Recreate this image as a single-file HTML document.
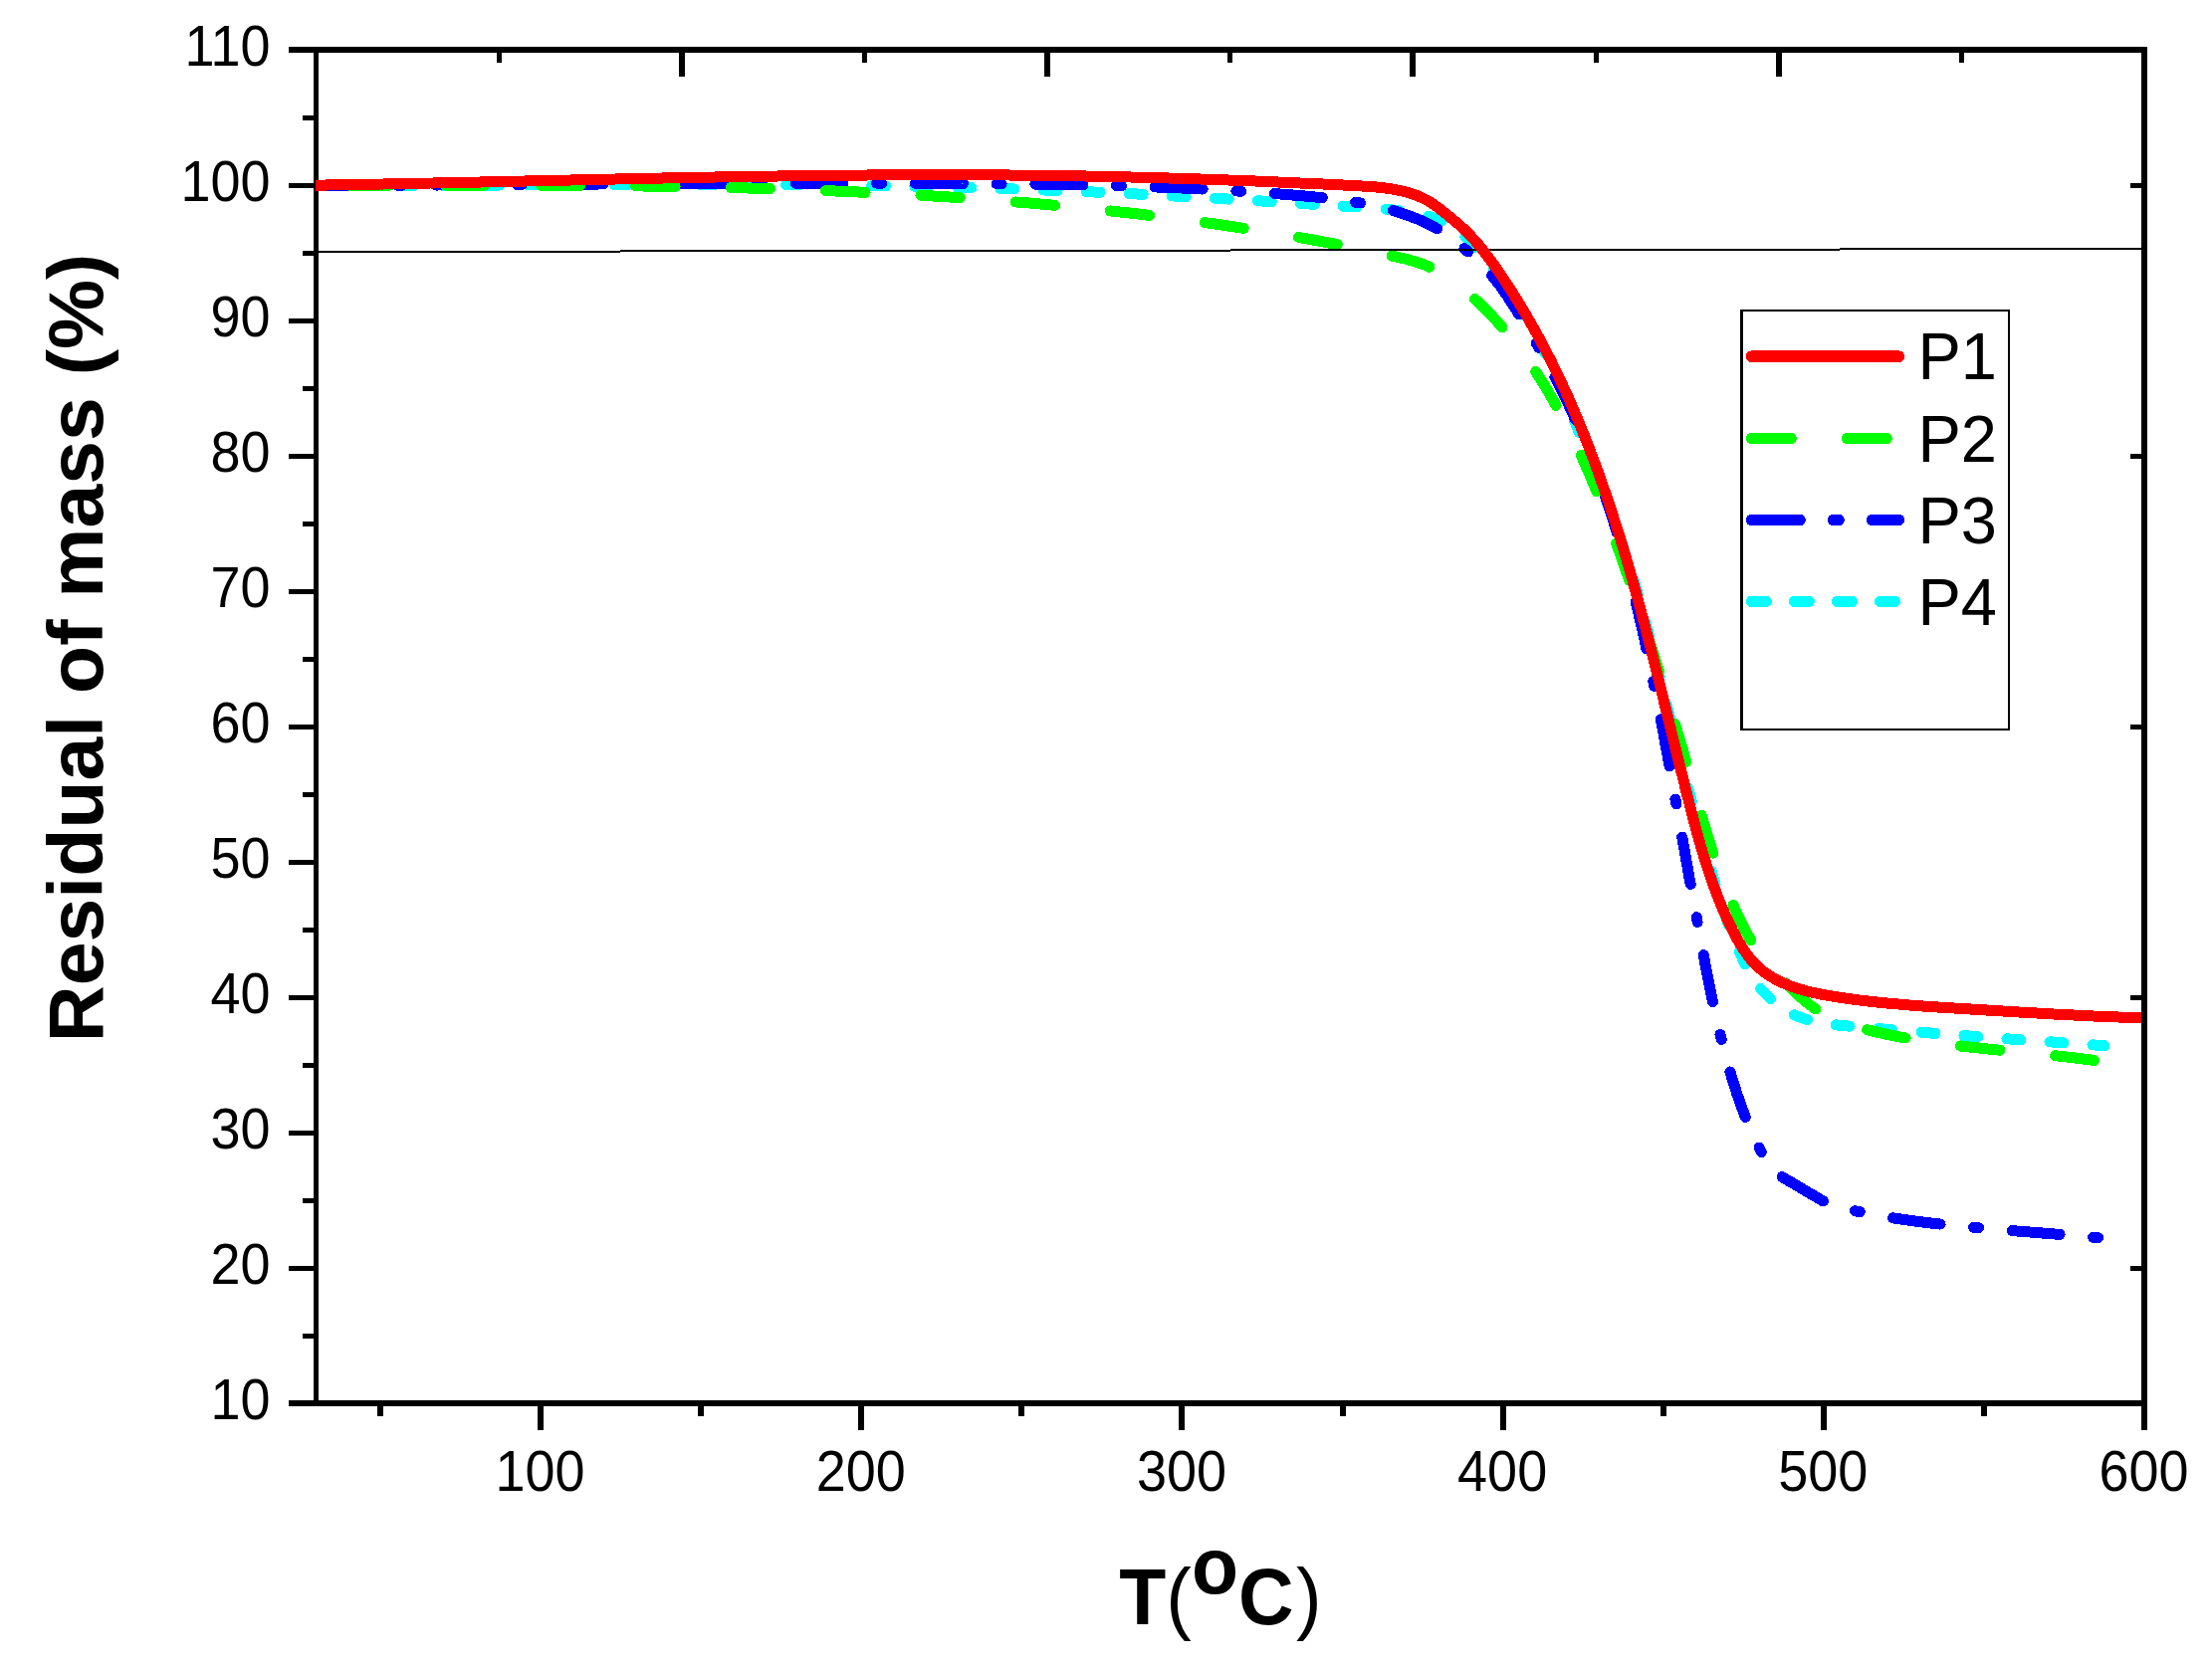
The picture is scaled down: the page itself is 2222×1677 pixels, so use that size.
<!DOCTYPE html>
<html lang="en">
<head>
<meta charset="utf-8">
<title>Residual of mass vs T</title>
<style>html,body{margin:0;padding:0;background:#fff}svg{display:block}</style>
</head>
<body>
<svg width="2222" height="1677" viewBox="0 0 2222 1677">
<rect width="2222" height="1677" fill="#fff"/>
<g shape-rendering="crispEdges"><rect x="290" y="47" width="1867" height="6" fill="#000"/><rect x="290" y="1407" width="1867" height="6" fill="#000"/><rect x="315" y="47" width="5" height="1366" fill="#000"/><rect x="2151" y="47" width="6" height="1390" fill="#000"/><rect x="290" y="1271.5" width="26" height="5" fill="#000"/><rect x="290" y="1135.5" width="26" height="5" fill="#000"/><rect x="290" y="999.5" width="26" height="5" fill="#000"/><rect x="290" y="863.5" width="26" height="5" fill="#000"/><rect x="290" y="727.5" width="26" height="5" fill="#000"/><rect x="290" y="591.5" width="26" height="5" fill="#000"/><rect x="290" y="455.5" width="26" height="5" fill="#000"/><rect x="290" y="319.5" width="26" height="5" fill="#000"/><rect x="290" y="183.5" width="26" height="5" fill="#000"/><rect x="304" y="1339.5" width="12" height="5" fill="#000"/><rect x="304" y="1203.5" width="12" height="5" fill="#000"/><rect x="304" y="1067.5" width="12" height="5" fill="#000"/><rect x="304" y="931.5" width="12" height="5" fill="#000"/><rect x="304" y="795.5" width="12" height="5" fill="#000"/><rect x="304" y="659.5" width="12" height="5" fill="#000"/><rect x="304" y="523.5" width="12" height="5" fill="#000"/><rect x="304" y="387.5" width="12" height="5" fill="#000"/><rect x="304" y="251.5" width="12" height="5" fill="#000"/><rect x="304" y="115.5" width="12" height="5" fill="#000"/><rect x="540.035" y="1412" width="6" height="25" fill="#000"/><rect x="862.228" y="1412" width="6" height="25" fill="#000"/><rect x="1184.42" y="1412" width="6" height="25" fill="#000"/><rect x="1506.61" y="1412" width="6" height="25" fill="#000"/><rect x="1828.81" y="1412" width="6" height="25" fill="#000"/><rect x="378.939" y="1412" width="6" height="11" fill="#000"/><rect x="701.132" y="1412" width="6" height="11" fill="#000"/><rect x="1023.32" y="1412" width="6" height="11" fill="#000"/><rect x="1345.52" y="1412" width="6" height="11" fill="#000"/><rect x="1667.71" y="1412" width="6" height="11" fill="#000"/><rect x="1989.9" y="1412" width="6" height="11" fill="#000"/><rect x="498.65" y="52" width="5" height="11" fill="#000"/><rect x="681.8" y="52" width="6" height="25" fill="#000"/><rect x="865.95" y="52" width="5" height="11" fill="#000"/><rect x="1049.1" y="52" width="6" height="25" fill="#000"/><rect x="1233.25" y="52" width="5" height="11" fill="#000"/><rect x="1416.4" y="52" width="6" height="25" fill="#000"/><rect x="1600.55" y="52" width="5" height="11" fill="#000"/><rect x="1783.7" y="52" width="6" height="25" fill="#000"/><rect x="1967.85" y="52" width="5" height="11" fill="#000"/><rect x="2140" y="1271.5" width="12" height="5" fill="#000"/><rect x="2140" y="999.5" width="12" height="5" fill="#000"/><rect x="2140" y="727.5" width="12" height="5" fill="#000"/><rect x="2140" y="455.5" width="12" height="5" fill="#000"/><rect x="2140" y="183.5" width="12" height="5" fill="#000"/></g>
<clipPath id="plotclip"><rect x="317" y="53" width="1834" height="1354"/></clipPath>
<g clip-path="url(#plotclip)">
<g fill="none" stroke-linecap="round" stroke-linejoin="round" stroke-width="11" shape-rendering="crispEdges">
<path d="M317.5 186.5L320.0 186.6L322.5 186.6L325.0 186.6L327.5 186.6L330.0 186.6L332.5 186.6L335.0 186.6L337.5 186.6L340.0 186.6L342.6 186.6L345.1 186.6L347.6 186.5L350.1 186.5L352.6 186.5L355.1 186.5L357.6 186.5L360.1 186.5L362.6 186.5L365.1 186.5L367.6 186.5L370.1 186.5L372.6 186.5L375.1 186.5L377.6 186.5L380.1 186.5L382.7 186.5L385.2 186.5L387.7 186.5L390.2 186.5L392.7 186.5L395.2 186.5L397.7 186.5L400.2 186.4L402.7 186.4L405.2 186.4L407.7 186.4L410.2 186.4L412.7 186.4L415.2 186.4L417.7 186.4L420.2 186.4L422.8 186.4L425.3 186.4L427.8 186.4L430.3 186.4L432.8 186.3L435.3 186.3L437.8 186.3L440.3 186.3L442.8 186.3L445.3 186.3L447.8 186.3L450.3 186.3L452.8 186.3L455.3 186.3L457.8 186.2L460.3 186.2L462.8 186.2L465.3 186.2L467.9 186.2L470.4 186.2L472.9 186.2L475.4 186.2L477.9 186.2L480.4 186.1L482.9 186.1L485.4 186.1L487.9 186.1L490.4 186.1L492.9 186.1L495.4 186.1L497.9 186.1L500.4 186.1L502.9 186.0L505.4 186.0L507.9 186.0L510.4 186.0L512.9 186.0L515.5 186.0L518.0 186.0L520.5 186.0L523.0 186.0L525.5 185.9L528.0 185.9L530.5 185.9L533.0 185.9L535.5 185.9L538.0 185.9L540.5 185.9L543.0 185.9L545.5 185.9L548.0 185.8L550.5 185.8L553.0 185.8L555.5 185.8L558.0 185.8L560.5 185.8L563.1 185.8L565.6 185.8L568.1 185.8L570.6 185.7L573.1 185.7L575.6 185.7L578.1 185.7L580.6 185.7L583.1 185.7L585.6 185.7L588.1 185.7L590.6 185.7L593.1 185.7L595.6 185.6L598.1 185.6L600.6 185.6L603.1 185.6L605.6 185.6L608.1 185.6L610.6 185.6L613.1 185.6L615.7 185.6L618.2 185.6L620.7 185.6L623.2 185.6L625.7 185.6L628.2 185.5L630.7 185.5L633.2 185.5L635.7 185.5L638.2 185.5L640.7 185.5L643.2 185.5L645.7 185.5L648.2 185.5L650.7 185.5L653.2 185.5L655.7 185.5L658.2 185.5L660.7 185.5L663.2 185.5L665.7 185.5L668.2 185.5L670.8 185.5L673.3 185.5L675.8 185.5L678.3 185.5L680.8 185.5L683.3 185.5L685.8 185.5L688.3 185.5L690.8 185.5L693.3 185.5L695.8 185.5L698.3 185.5L700.8 185.5L703.3 185.5L705.8 185.5L708.3 185.5L710.8 185.5L713.3 185.5L715.8 185.5L718.3 185.5L720.8 185.5L723.3 185.5L725.8 185.5L728.4 185.5L730.9 185.5L733.4 185.5L735.9 185.5L738.4 185.5L740.9 185.5L743.4 185.5L745.9 185.6L748.4 185.6L750.9 185.6L753.4 185.6L755.9 185.6L758.4 185.6L760.9 185.6L763.4 185.6L765.9 185.6L768.4 185.6L770.9 185.7L773.4 185.7L775.9 185.7L778.4 185.7L780.9 185.7L783.4 185.7L786.0 185.7L788.5 185.8L791.0 185.8L793.5 185.8L796.0 185.8L798.5 185.8L801.0 185.8L803.5 185.9L806.0 185.9L808.5 185.9L811.0 185.9L813.5 186.0L816.0 186.0L818.5 186.0L821.0 186.0L823.5 186.0L826.0 186.1L828.5 186.1L831.0 186.1L833.5 186.1L836.0 186.2L838.5 186.2L841.0 186.2L843.5 186.2L846.1 186.3L848.6 186.3L851.1 186.3L853.6 186.4L856.1 186.4L858.6 186.4L861.1 186.5L863.6 186.5L866.1 186.5L868.6 186.6L871.1 186.6L873.6 186.6L876.1 186.7L878.6 186.7L881.1 186.7L883.6 186.8L886.1 186.8L888.6 186.9L891.1 186.9L893.6 186.9L896.1 187.0L898.6 187.0L901.1 187.1L903.7 187.1L906.2 187.2L908.7 187.2L911.2 187.2L913.7 187.3L916.2 187.3L918.7 187.4L921.2 187.4L923.7 187.5L926.2 187.5L928.7 187.6L931.2 187.6L933.7 187.7L936.2 187.7L938.7 187.8L941.2 187.9L943.7 187.9L946.2 188.0L948.7 188.0L951.2 188.1L953.7 188.1L956.2 188.2L958.7 188.3L961.3 188.3L963.8 188.4L966.3 188.4L968.8 188.5L971.3 188.6L973.8 188.6L976.3 188.7L978.8 188.8L981.3 188.8L983.8 188.9L986.3 189.0L988.8 189.0L991.3 189.1L993.8 189.2L996.3 189.3L998.8 189.3L1001.3 189.4L1003.8 189.5L1006.3 189.6L1008.8 189.6L1011.3 189.7L1013.8 189.8L1016.3 189.9L1018.9 190.0L1021.4 190.0L1023.9 190.1L1026.4 190.2L1028.9 190.3L1031.4 190.4L1033.9 190.5L1036.4 190.5L1038.9 190.6L1041.4 190.7L1043.9 190.8L1046.4 190.9L1048.9 191.0L1051.4 191.1L1053.9 191.2L1056.4 191.3L1058.9 191.4L1061.4 191.5L1063.9 191.6L1066.4 191.7L1068.9 191.8L1071.4 191.9L1074.0 192.0L1076.5 192.1L1079.0 192.2L1081.5 192.3L1084.0 192.4L1086.5 192.5L1089.0 192.6L1091.5 192.7L1094.0 192.8L1096.5 192.9L1099.0 193.0L1101.5 193.1L1104.0 193.3L1106.5 193.4L1109.0 193.5L1111.5 193.6L1114.0 193.7L1116.5 193.8L1119.0 193.9L1121.5 194.1L1124.0 194.2L1126.5 194.3L1129.1 194.4L1131.6 194.5L1134.1 194.7L1136.6 194.8L1139.1 194.9L1141.6 195.0L1144.1 195.2L1146.6 195.3L1149.1 195.4L1151.6 195.5L1154.1 195.7L1156.6 195.8L1159.1 195.9L1161.6 196.0L1164.1 196.2L1166.6 196.3L1169.1 196.4L1171.6 196.6L1174.1 196.7L1176.6 196.8L1179.1 197.0L1181.6 197.1L1184.1 197.2L1186.6 197.4L1189.1 197.5L1191.6 197.7L1194.1 197.8L1196.6 197.9L1199.2 198.1L1201.7 198.2L1204.2 198.3L1206.7 198.5L1209.2 198.6L1211.7 198.8L1214.2 198.9L1216.7 199.1L1219.2 199.2L1221.7 199.3L1224.2 199.5L1226.7 199.6L1229.2 199.8L1231.7 199.9L1234.2 200.1L1236.7 200.2L1239.2 200.4L1241.7 200.5L1244.2 200.7L1246.7 200.8L1249.2 200.9L1251.7 201.1L1254.2 201.2L1256.7 201.4L1259.2 201.5L1261.7 201.7L1264.2 201.8L1266.7 202.0L1269.2 202.1L1271.7 202.3L1274.2 202.5L1276.7 202.6L1279.2 202.8L1281.7 202.9L1284.2 203.1L1286.7 203.2L1289.2 203.4L1291.7 203.5L1294.2 203.7L1296.7 203.8L1299.2 204.0L1301.7 204.1L1304.2 204.3L1306.7 204.5L1309.2 204.6L1311.7 204.8L1314.2 204.9L1316.6 205.1L1319.1 205.2L1321.6 205.4L1324.1 205.6L1326.6 205.7L1329.1 205.9L1331.6 206.0L1334.1 206.2L1336.6 206.3L1339.1 206.5L1341.6 206.7L1344.1 206.8L1346.6 207.0L1349.1 207.1L1351.6 207.3L1354.1 207.4L1356.6 207.6L1359.1 207.8L1361.6 207.9L1364.1 208.1L1366.5 208.3L1369.0 208.4L1371.5 208.6L1374.0 208.8L1376.5 209.0L1379.0 209.1L1381.5 209.3L1384.0 209.6L1386.5 209.8L1389.0 210.0L1391.5 210.2L1394.0 210.5L1396.5 210.8L1398.9 211.0L1401.4 211.3L1403.9 211.7L1406.4 212.0L1408.9 212.3L1411.4 212.7L1413.9 213.1L1416.4 213.5L1418.9 213.9L1421.3 214.4L1423.8 214.9L1426.3 215.4L1428.8 215.9L1431.3 216.5L1433.7 217.1L1436.1 217.8L1438.5 218.5L1440.9 219.2L1443.3 220.0L1445.6 220.9L1447.9 221.9L1450.2 222.9L1452.4 223.9L1454.6 225.1L1456.7 226.3L1458.8 227.6L1460.9 229.0L1462.9 230.5L1464.8 232.0L1466.8 233.5L1468.7 235.2L1470.5 236.8L1472.4 238.6L1474.2 240.3L1475.9 242.1L1477.7 244.0L1479.4 245.8L1481.1 247.7L1482.8 249.6L1484.5 251.6L1486.1 253.5L1487.8 255.5L1489.4 257.4L1491.0 259.4L1492.6 261.4L1494.2 263.3L1495.8 265.3L1497.4 267.2L1499.0 269.2L1500.5 271.2L1502.1 273.2L1503.6 275.1L1505.1 277.1L1506.6 279.1L1508.1 281.1L1509.6 283.1L1511.1 285.1L1512.6 287.1L1514.0 289.1L1515.5 291.1L1516.9 293.1L1518.3 295.1L1519.7 297.2L1521.1 299.2L1522.5 301.3L1523.8 303.4L1525.1 305.5L1526.5 307.5L1527.8 309.6L1529.1 311.8L1530.4 313.9L1531.7 316.0L1532.9 318.1L1534.2 320.3L1535.4 322.4L1536.6 324.6L1537.8 326.8L1539.0 329.0L1540.2 331.1L1541.4 333.3L1542.6 335.5L1543.7 337.7L1544.9 340.0L1546.0 342.2L1547.2 344.4L1548.3 346.7L1549.4 348.9L1550.5 351.1L1551.6 353.4L1552.7 355.7L1553.8 357.9L1554.8 360.2L1555.9 362.5L1556.9 364.7L1558.0 367.0L1559.0 369.3L1560.1 371.6L1561.1 373.9L1562.1 376.2L1563.1 378.5L1564.1 380.8L1565.1 383.1L1566.1 385.4L1567.1 387.8L1568.1 390.1L1569.1 392.4L1570.1 394.7L1571.0 397.1L1572.0 399.4L1573.0 401.7L1573.9 404.1L1574.9 406.4L1575.8 408.7L1576.8 411.1L1577.7 413.4L1578.7 415.7L1579.6 418.1L1580.6 420.4L1581.5 422.8L1582.5 425.1L1583.4 427.4L1584.4 429.8L1585.3 432.1L1586.2 434.4L1587.2 436.8L1588.1 439.1L1589.0 441.4L1590.0 443.8L1590.9 446.1L1591.9 448.4L1592.8 450.8L1593.8 453.1L1594.7 455.4L1595.6 457.7L1596.6 460.1L1597.5 462.4L1598.4 464.7L1599.4 467.0L1600.3 469.4L1601.3 471.7L1602.2 474.0L1603.1 476.3L1604.0 478.6L1605.0 481.0L1605.9 483.3L1606.8 485.6L1607.7 487.9L1608.6 490.3L1609.6 492.6L1610.5 494.9L1611.4 497.2L1612.3 499.6L1613.2 501.9L1614.1 504.2L1615.0 506.5L1615.9 508.9L1616.7 511.2L1617.6 513.5L1618.5 515.9L1619.4 518.2L1620.2 520.6L1621.1 522.9L1621.9 525.2L1622.8 527.6L1623.6 529.9L1624.5 532.3L1625.3 534.6L1626.1 537.0L1627.0 539.3L1627.8 541.7L1628.6 544.0L1629.4 546.4L1630.2 548.8L1631.0 551.1L1631.7 553.5L1632.5 555.9L1633.3 558.3L1634.1 560.6L1634.8 563.0L1635.6 565.4L1636.3 567.8L1637.1 570.2L1637.8 572.6L1638.6 574.9L1639.3 577.3L1640.0 579.7L1640.7 582.1L1641.5 584.5L1642.2 586.9L1642.9 589.3L1643.6 591.7L1644.3 594.1L1645.0 596.5L1645.7 598.9L1646.4 601.3L1647.0 603.8L1647.7 606.2L1648.4 608.6L1649.1 611.0L1649.7 613.4L1650.4 615.8L1651.1 618.2L1651.7 620.7L1652.4 623.1L1653.0 625.5L1653.7 627.9L1654.3 630.4L1655.0 632.8L1655.6 635.2L1656.3 637.6L1656.9 640.1L1657.5 642.5L1658.2 644.9L1658.8 647.4L1659.4 649.8L1660.0 652.2L1660.7 654.6L1661.3 657.1L1661.9 659.5L1662.5 661.9L1663.2 664.4L1663.8 666.8L1664.4 669.3L1665.0 671.7L1665.6 674.1L1666.2 676.6L1666.8 679.0L1667.5 681.4L1668.1 683.9L1668.7 686.3L1669.3 688.7L1669.9 691.2L1670.5 693.6L1671.1 696.1L1671.7 698.5L1672.3 700.9L1672.9 703.4L1673.5 705.8L1674.2 708.2L1674.8 710.7L1675.4 713.1L1676.0 715.5L1676.6 718.0L1677.2 720.4L1677.8 722.9L1678.4 725.3L1679.0 727.7L1679.7 730.1L1680.3 732.6L1680.9 735.0L1681.5 737.4L1682.1 739.9L1682.7 742.3L1683.4 744.7L1684.0 747.2L1684.6 749.6L1685.2 752.0L1685.9 754.4L1686.5 756.9L1687.1 759.3L1687.7 761.7L1688.4 764.2L1689.0 766.6L1689.6 769.0L1690.3 771.4L1690.9 773.9L1691.5 776.3L1692.2 778.7L1692.8 781.1L1693.4 783.5L1694.1 786.0L1694.7 788.4L1695.4 790.8L1696.0 793.2L1696.6 795.6L1697.3 798.1L1697.9 800.5L1698.6 802.9L1699.2 805.3L1699.9 807.7L1700.6 810.1L1701.2 812.6L1701.9 815.0L1702.5 817.4L1703.2 819.8L1703.9 822.2L1704.5 824.6L1705.2 827.0L1705.9 829.4L1706.5 831.8L1707.2 834.3L1707.9 836.7L1708.6 839.1L1709.3 841.5L1709.9 843.9L1710.6 846.3L1711.3 848.7L1712.0 851.1L1712.7 853.5L1713.4 855.9L1714.1 858.3L1714.8 860.7L1715.5 863.1L1716.2 865.5L1716.9 867.9L1717.6 870.3L1718.3 872.7L1719.0 875.1L1719.7 877.5L1720.5 879.9L1721.2 882.3L1721.9 884.7L1722.6 887.1L1723.4 889.4L1724.1 891.8L1724.8 894.2L1725.6 896.6L1726.3 899.0L1727.1 901.4L1727.8 903.8L1728.6 906.1L1729.4 908.5L1730.2 910.9L1730.9 913.3L1731.7 915.6L1732.5 918.0L1733.4 920.4L1734.2 922.7L1735.0 925.1L1735.9 927.4L1736.7 929.8L1737.6 932.1L1738.5 934.5L1739.3 936.8L1740.2 939.1L1741.2 941.5L1742.1 943.8L1743.0 946.1L1744.0 948.4L1744.9 950.8L1745.9 953.1L1746.9 955.4L1747.9 957.7L1749.0 960.0L1750.0 962.2L1751.1 964.5L1752.1 966.8L1753.2 969.1L1754.4 971.3L1755.5 973.6L1756.7 975.8L1757.9 978.0L1759.2 980.1L1760.5 982.3L1761.8 984.4L1763.2 986.5L1764.7 988.5L1766.2 990.5L1767.8 992.4L1769.4 994.3L1771.1 996.2L1772.8 998.0L1774.6 999.8L1776.3 1001.5L1778.2 1003.3L1780.0 1004.9L1781.9 1006.6L1783.8 1008.2L1785.8 1009.7L1787.8 1011.2L1789.9 1012.6L1792.0 1014.0L1794.1 1015.3L1796.3 1016.6L1798.5 1017.8L1800.8 1018.9L1803.0 1020.0L1805.4 1021.0L1807.7 1021.9L1810.0 1022.8L1812.4 1023.7L1814.8 1024.4L1817.2 1025.1L1819.6 1025.8L1822.0 1026.4L1824.5 1026.9L1826.9 1027.4L1829.4 1027.9L1831.8 1028.3L1834.3 1028.7L1836.8 1029.0L1839.3 1029.3L1841.8 1029.6L1844.2 1029.9L1846.7 1030.1L1849.2 1030.4L1851.7 1030.6L1854.2 1030.8L1856.7 1031.0L1859.2 1031.3L1861.7 1031.5L1864.2 1031.7L1866.7 1031.9L1869.2 1032.1L1871.7 1032.3L1874.2 1032.5L1876.7 1032.8L1879.2 1033.0L1881.7 1033.2L1884.2 1033.4L1886.7 1033.6L1889.2 1033.8L1891.7 1034.0L1894.2 1034.3L1896.7 1034.5L1899.2 1034.7L1901.7 1034.9L1904.2 1035.1L1906.7 1035.3L1909.2 1035.5L1911.7 1035.7L1914.2 1035.9L1916.7 1036.1L1919.2 1036.3L1921.7 1036.5L1924.2 1036.7L1926.7 1037.0L1929.2 1037.2L1931.6 1037.4L1934.1 1037.6L1936.6 1037.8L1939.1 1038.0L1941.6 1038.2L1944.1 1038.4L1946.6 1038.6L1949.1 1038.8L1951.6 1039.0L1954.1 1039.2L1956.6 1039.4L1959.1 1039.6L1961.6 1039.7L1964.1 1039.9L1966.6 1040.1L1969.1 1040.3L1971.6 1040.5L1974.1 1040.7L1976.6 1040.9L1979.1 1041.1L1981.6 1041.3L1984.1 1041.5L1986.6 1041.7L1989.1 1041.8L1991.6 1042.0L1994.1 1042.2L1996.6 1042.4L1999.1 1042.6L2001.6 1042.8L2004.1 1042.9L2006.6 1043.1L2009.1 1043.3L2011.6 1043.5L2014.1 1043.7L2016.6 1043.9L2019.0 1044.0L2021.5 1044.2L2024.0 1044.4L2026.5 1044.6L2029.0 1044.7L2031.5 1044.9L2034.0 1045.1L2036.5 1045.3L2039.0 1045.5L2041.5 1045.6L2044.0 1045.8L2046.5 1046.0L2049.0 1046.2L2051.5 1046.3L2054.0 1046.5L2056.5 1046.7L2059.0 1046.9L2061.5 1047.0L2064.0 1047.2L2066.5 1047.4L2069.0 1047.6L2071.5 1047.7L2074.0 1047.9L2076.5 1048.1L2079.0 1048.3L2081.5 1048.4L2084.0 1048.6L2086.5 1048.8L2089.0 1049.0L2091.5 1049.1L2094.0 1049.3L2096.5 1049.5L2099.0 1049.7L2101.5 1049.8L2104.0 1050.0L2106.5 1050.2L2109.0 1050.4L2111.5 1050.5L2114.0 1050.7" stroke="#00ffff" stroke-dasharray="14 29.1" stroke-dashoffset="2"/>
<path d="M317.5 186.7L320.0 186.7L322.5 186.7L325.0 186.7L327.5 186.6L330.0 186.6L332.5 186.6L335.0 186.6L337.5 186.6L340.1 186.6L342.6 186.6L345.1 186.5L347.6 186.5L350.1 186.5L352.6 186.5L355.1 186.5L357.6 186.5L360.1 186.5L362.6 186.4L365.1 186.4L367.6 186.4L370.1 186.4L372.6 186.4L375.1 186.4L377.6 186.4L380.1 186.3L382.6 186.3L385.1 186.3L387.7 186.3L390.2 186.3L392.7 186.3L395.2 186.2L397.7 186.2L400.2 186.2L402.7 186.2L405.2 186.2L407.7 186.2L410.2 186.2L412.7 186.1L415.2 186.1L417.7 186.1L420.2 186.1L422.7 186.1L425.2 186.1L427.7 186.0L430.2 186.0L432.8 186.0L435.3 186.0L437.8 186.0L440.3 186.0L442.8 185.9L445.3 185.9L447.8 185.9L450.3 185.9L452.8 185.9L455.3 185.9L457.8 185.8L460.3 185.8L462.8 185.8L465.3 185.8L467.8 185.8L470.3 185.8L472.8 185.8L475.4 185.7L477.9 185.7L480.4 185.7L482.9 185.7L485.4 185.7L487.9 185.7L490.4 185.6L492.9 185.6L495.4 185.6L497.9 185.6L500.4 185.6L502.9 185.6L505.4 185.5L507.9 185.5L510.4 185.5L512.9 185.5L515.4 185.5L518.0 185.5L520.5 185.4L523.0 185.4L525.5 185.4L528.0 185.4L530.5 185.4L533.0 185.4L535.5 185.4L538.0 185.3L540.5 185.3L543.0 185.3L545.5 185.3L548.0 185.3L550.5 185.3L553.0 185.2L555.5 185.2L558.0 185.2L560.6 185.2L563.1 185.2L565.6 185.2L568.1 185.2L570.6 185.1L573.1 185.1L575.6 185.1L578.1 185.1L580.6 185.1L583.1 185.1L585.6 185.0L588.1 185.0L590.6 185.0L593.1 185.0L595.6 185.0L598.1 185.0L600.6 185.0L603.2 184.9L605.7 184.9L608.2 184.9L610.7 184.9L613.2 184.9L615.7 184.9L618.2 184.9L620.7 184.9L623.2 184.8L625.7 184.8L628.2 184.8L630.7 184.8L633.2 184.8L635.7 184.8L638.2 184.8L640.7 184.7L643.3 184.7L645.8 184.7L648.3 184.7L650.8 184.7L653.3 184.7L655.8 184.7L658.3 184.7L660.8 184.6L663.3 184.6L665.8 184.6L668.3 184.6L670.8 184.6L673.3 184.6L675.8 184.6L678.3 184.6L680.8 184.6L683.3 184.5L685.9 184.5L688.4 184.5L690.9 184.5L693.4 184.5L695.9 184.5L698.4 184.5L700.9 184.5L703.4 184.5L705.9 184.5L708.4 184.4L710.9 184.4L713.4 184.4L715.9 184.4L718.4 184.4L720.9 184.4L723.4 184.4L726.0 184.4L728.5 184.4L731.0 184.4L733.5 184.4L736.0 184.3L738.5 184.3L741.0 184.3L743.5 184.3L746.0 184.3L748.5 184.3L751.0 184.3L753.5 184.3L756.0 184.3L758.5 184.3L761.0 184.3L763.5 184.3L766.0 184.3L768.6 184.3L771.1 184.2L773.6 184.2L776.1 184.2L778.6 184.2L781.1 184.2L783.6 184.2L786.1 184.2L788.6 184.2L791.1 184.2L793.6 184.2L796.1 184.2L798.6 184.2L801.1 184.2L803.6 184.2L806.1 184.2L808.7 184.2L811.2 184.2L813.7 184.2L816.2 184.2L818.7 184.2L821.2 184.2L823.7 184.2L826.2 184.2L828.7 184.2L831.2 184.2L833.7 184.2L836.2 184.2L838.7 184.2L841.2 184.2L843.7 184.2L846.2 184.2L848.7 184.2L851.3 184.2L853.8 184.2L856.3 184.2L858.8 184.2L861.3 184.2L863.8 184.2L866.3 184.2L868.8 184.2L871.3 184.2L873.8 184.2L876.3 184.2L878.8 184.2L881.3 184.2L883.8 184.2L886.3 184.2L888.8 184.2L891.3 184.2L893.8 184.2L896.4 184.2L898.9 184.2L901.4 184.2L903.9 184.2L906.4 184.2L908.9 184.2L911.4 184.3L913.9 184.3L916.4 184.3L918.9 184.3L921.4 184.3L923.9 184.3L926.4 184.3L928.9 184.3L931.4 184.3L933.9 184.3L936.4 184.3L938.9 184.3L941.5 184.3L944.0 184.4L946.5 184.4L949.0 184.4L951.5 184.4L954.0 184.4L956.5 184.4L959.0 184.4L961.5 184.4L964.0 184.4L966.5 184.5L969.0 184.5L971.5 184.5L974.0 184.5L976.5 184.5L979.0 184.5L981.5 184.5L984.0 184.6L986.5 184.6L989.1 184.6L991.6 184.6L994.1 184.6L996.6 184.7L999.1 184.7L1001.6 184.7L1004.1 184.7L1006.6 184.7L1009.1 184.8L1011.6 184.8L1014.1 184.8L1016.6 184.8L1019.1 184.9L1021.6 184.9L1024.1 184.9L1026.6 184.9L1029.1 185.0L1031.6 185.0L1034.1 185.0L1036.7 185.1L1039.2 185.1L1041.7 185.1L1044.2 185.1L1046.7 185.2L1049.2 185.2L1051.7 185.3L1054.2 185.3L1056.7 185.3L1059.2 185.4L1061.7 185.4L1064.2 185.5L1066.7 185.5L1069.2 185.5L1071.7 185.6L1074.2 185.6L1076.7 185.7L1079.2 185.7L1081.7 185.8L1084.2 185.8L1086.7 185.9L1089.2 185.9L1091.8 186.0L1094.3 186.0L1096.8 186.1L1099.3 186.1L1101.8 186.2L1104.3 186.3L1106.8 186.3L1109.3 186.4L1111.8 186.4L1114.3 186.5L1116.8 186.6L1119.3 186.6L1121.8 186.7L1124.3 186.8L1126.8 186.9L1129.3 186.9L1131.8 187.0L1134.3 187.1L1136.8 187.2L1139.3 187.2L1141.8 187.3L1144.3 187.4L1146.8 187.5L1149.4 187.6L1151.9 187.7L1154.4 187.7L1156.9 187.8L1159.4 187.9L1161.9 188.0L1164.4 188.1L1166.9 188.2L1169.4 188.3L1171.9 188.4L1174.4 188.5L1176.9 188.6L1179.4 188.7L1181.9 188.8L1184.4 188.9L1186.9 189.0L1189.4 189.1L1191.9 189.3L1194.4 189.4L1196.9 189.5L1199.4 189.6L1201.9 189.7L1204.4 189.9L1206.9 190.0L1209.4 190.1L1211.9 190.2L1214.4 190.4L1216.9 190.5L1219.5 190.6L1222.0 190.8L1224.5 190.9L1227.0 191.1L1229.5 191.2L1232.0 191.3L1234.5 191.5L1237.0 191.6L1239.5 191.8L1242.0 191.9L1244.5 192.1L1247.0 192.3L1249.5 192.4L1252.0 192.6L1254.5 192.7L1257.0 192.9L1259.5 193.1L1262.0 193.3L1264.5 193.4L1267.0 193.6L1269.5 193.8L1272.0 194.0L1274.5 194.1L1277.0 194.3L1279.5 194.5L1282.0 194.7L1284.5 194.9L1287.0 195.1L1289.5 195.3L1292.0 195.5L1294.5 195.7L1297.0 195.9L1299.5 196.1L1302.0 196.3L1304.5 196.5L1307.0 196.7L1309.5 196.9L1312.0 197.2L1314.6 197.4L1317.1 197.6L1319.5 197.9L1322.0 198.1L1324.5 198.4L1327.0 198.6L1329.5 198.9L1332.0 199.1L1334.5 199.4L1337.0 199.7L1339.5 200.0L1342.0 200.3L1344.5 200.6L1347.0 200.9L1349.4 201.3L1351.9 201.6L1354.4 202.0L1356.8 202.4L1359.3 202.8L1361.8 203.2L1364.2 203.6L1366.7 204.0L1369.2 204.5L1371.6 204.9L1374.0 205.4L1376.5 205.9L1378.9 206.4L1381.4 207.0L1383.8 207.5L1386.2 208.1L1388.6 208.7L1391.0 209.3L1393.4 209.9L1395.8 210.6L1398.2 211.2L1400.6 211.9L1403.0 212.7L1405.4 213.4L1407.8 214.2L1410.1 215.0L1412.5 215.8L1414.9 216.6L1417.2 217.5L1419.5 218.4L1421.9 219.3L1424.2 220.2L1426.5 221.2L1428.8 222.2L1431.1 223.3L1433.4 224.4L1435.6 225.5L1437.9 226.6L1440.1 227.8L1442.3 229.0L1444.4 230.3L1446.6 231.6L1448.7 232.9L1450.8 234.3L1452.8 235.7L1454.9 237.2L1456.9 238.7L1458.9 240.2L1460.9 241.7L1462.9 243.2L1464.9 244.8L1466.8 246.4L1468.7 247.9L1470.7 249.6L1472.6 251.2L1474.5 252.8L1476.4 254.5L1478.3 256.1L1480.2 257.8L1482.0 259.5L1483.9 261.2L1485.7 262.9L1487.5 264.7L1489.2 266.5L1491.0 268.3L1492.7 270.1L1494.4 271.9L1496.0 273.8L1497.7 275.7L1499.3 277.6L1500.9 279.5L1502.4 281.4L1504.0 283.4L1505.5 285.3L1507.0 287.3L1508.4 289.3L1509.9 291.4L1511.3 293.4L1512.8 295.5L1514.2 297.5L1515.5 299.6L1516.9 301.7L1518.3 303.8L1519.7 305.9L1521.0 308.0L1522.3 310.1L1523.7 312.2L1525.0 314.4L1526.3 316.5L1527.6 318.7L1528.9 320.8L1530.3 323.0L1531.6 325.1L1532.9 327.3L1534.2 329.4L1535.5 331.6L1536.7 333.7L1538.0 335.9L1539.3 338.1L1540.6 340.3L1541.9 342.4L1543.1 344.6L1544.4 346.8L1545.6 349.0L1546.9 351.2L1548.1 353.4L1549.4 355.6L1550.6 357.8L1551.8 360.0L1553.1 362.2L1554.3 364.4L1555.5 366.6L1556.7 368.8L1557.9 371.1L1559.0 373.3L1560.2 375.5L1561.4 377.7L1562.5 380.0L1563.7 382.2L1564.8 384.4L1566.0 386.7L1567.1 388.9L1568.2 391.2L1569.4 393.4L1570.5 395.7L1571.6 397.9L1572.6 400.2L1573.7 402.5L1574.8 404.7L1575.9 407.0L1576.9 409.3L1578.0 411.5L1579.0 413.8L1580.1 416.1L1581.1 418.4L1582.1 420.6L1583.1 422.9L1584.2 425.2L1585.2 427.5L1586.1 429.8L1587.1 432.1L1588.1 434.4L1589.1 436.7L1590.1 439.0L1591.0 441.3L1592.0 443.6L1592.9 445.9L1593.9 448.3L1594.8 450.6L1595.7 452.9L1596.6 455.2L1597.6 457.5L1598.5 459.9L1599.4 462.2L1600.3 464.5L1601.2 466.9L1602.0 469.2L1602.9 471.5L1603.8 473.9L1604.6 476.2L1605.5 478.6L1606.4 480.9L1607.2 483.3L1608.0 485.6L1608.9 488.0L1609.7 490.3L1610.5 492.7L1611.3 495.1L1612.1 497.4L1612.9 499.8L1613.7 502.1L1614.5 504.5L1615.3 506.9L1616.1 509.3L1616.9 511.6L1617.7 514.0L1618.4 516.4L1619.2 518.8L1619.9 521.1L1620.7 523.5L1621.4 525.9L1622.2 528.3L1622.9 530.7L1623.6 533.1L1624.4 535.5L1625.1 537.9L1625.8 540.3L1626.5 542.7L1627.2 545.1L1627.9 547.5L1628.6 549.9L1629.3 552.3L1630.0 554.7L1630.6 557.1L1631.3 559.5L1632.0 561.9L1632.7 564.3L1633.3 566.7L1634.0 569.1L1634.6 571.6L1635.3 574.0L1635.9 576.4L1636.6 578.8L1637.2 581.2L1637.8 583.7L1638.5 586.1L1639.1 588.5L1639.7 590.9L1640.3 593.4L1640.9 595.8L1641.5 598.2L1642.1 600.7L1642.7 603.1L1643.3 605.5L1643.9 608.0L1644.5 610.4L1645.1 612.8L1645.7 615.3L1646.3 617.7L1646.8 620.2L1647.4 622.6L1648.0 625.0L1648.5 627.5L1649.1 629.9L1649.7 632.4L1650.2 634.8L1650.8 637.3L1651.3 639.7L1651.9 642.2L1652.4 644.6L1653.0 647.1L1653.5 649.5L1654.0 652.0L1654.6 654.4L1655.1 656.9L1655.6 659.3L1656.1 661.8L1656.6 664.2L1657.2 666.7L1657.7 669.2L1658.2 671.6L1658.7 674.1L1659.2 676.5L1659.7 679.0L1660.2 681.5L1660.7 683.9L1661.2 686.4L1661.7 688.8L1662.2 691.3L1662.7 693.8L1663.2 696.2L1663.7 698.7L1664.2 701.2L1664.6 703.6L1665.1 706.1L1665.6 708.6L1666.1 711.0L1666.5 713.5L1667.0 715.9L1667.5 718.4L1668.0 720.9L1668.4 723.3L1668.9 725.8L1669.4 728.3L1669.8 730.7L1670.3 733.2L1670.8 735.7L1671.2 738.2L1671.7 740.6L1672.1 743.1L1672.6 745.6L1673.0 748.0L1673.5 750.5L1674.0 753.0L1674.4 755.4L1674.9 757.9L1675.3 760.4L1675.8 762.8L1676.2 765.3L1676.6 767.8L1677.1 770.2L1677.5 772.7L1678.0 775.2L1678.4 777.6L1678.9 780.1L1679.3 782.6L1679.8 785.0L1680.2 787.5L1680.6 790.0L1681.1 792.4L1681.5 794.9L1682.0 797.4L1682.4 799.8L1682.8 802.3L1683.3 804.7L1683.7 807.2L1684.2 809.7L1684.6 812.1L1685.0 814.6L1685.5 817.1L1685.9 819.5L1686.4 822.0L1686.8 824.5L1687.2 826.9L1687.7 829.4L1688.1 831.8L1688.5 834.3L1689.0 836.8L1689.4 839.2L1689.8 841.7L1690.3 844.2L1690.7 846.6L1691.2 849.1L1691.6 851.5L1692.0 854.0L1692.5 856.5L1692.9 858.9L1693.3 861.4L1693.8 863.9L1694.2 866.3L1694.6 868.8L1695.1 871.2L1695.5 873.7L1696.0 876.2L1696.4 878.6L1696.8 881.1L1697.3 883.6L1697.7 886.0L1698.2 888.5L1698.6 890.9L1699.0 893.4L1699.5 895.9L1699.9 898.3L1700.4 900.8L1700.8 903.3L1701.3 905.7L1701.7 908.2L1702.2 910.6L1702.6 913.1L1703.1 915.6L1703.5 918.0L1703.9 920.5L1704.4 922.9L1704.9 925.4L1705.3 927.9L1705.8 930.3L1706.2 932.8L1706.7 935.3L1707.1 937.7L1707.6 940.2L1708.0 942.6L1708.5 945.1L1709.0 947.6L1709.4 950.0L1709.9 952.5L1710.3 955.0L1710.8 957.4L1711.3 959.9L1711.7 962.4L1712.2 964.8L1712.7 967.3L1713.1 969.7L1713.6 972.2L1714.1 974.7L1714.6 977.1L1715.0 979.6L1715.5 982.1L1716.0 984.5L1716.5 987.0L1717.0 989.4L1717.5 991.9L1718.0 994.4L1718.5 996.8L1719.0 999.3L1719.5 1001.7L1720.0 1004.2L1720.5 1006.6L1721.0 1009.1L1721.6 1011.5L1722.1 1014.0L1722.6 1016.4L1723.2 1018.9L1723.7 1021.3L1724.3 1023.8L1724.8 1026.2L1725.4 1028.7L1726.0 1031.1L1726.5 1033.6L1727.1 1036.0L1727.7 1038.4L1728.3 1040.9L1728.9 1043.3L1729.5 1045.7L1730.1 1048.2L1730.7 1050.6L1731.3 1053.0L1732.0 1055.4L1732.6 1057.9L1733.2 1060.3L1733.9 1062.7L1734.6 1065.1L1735.2 1067.5L1735.9 1069.9L1736.6 1072.4L1737.3 1074.8L1738.0 1077.2L1738.7 1079.6L1739.4 1082.0L1740.2 1084.3L1740.9 1086.7L1741.7 1089.1L1742.4 1091.5L1743.2 1093.9L1744.0 1096.3L1744.7 1098.7L1745.5 1101.0L1746.4 1103.4L1747.2 1105.8L1748.0 1108.1L1748.8 1110.5L1749.7 1112.8L1750.6 1115.2L1751.4 1117.5L1752.3 1119.9L1758.0 1136.0L1779.0 1176.0L1838.0 1210.8L1867.0 1217.5L1869.5 1218.0L1872.0 1218.5L1874.4 1219.0L1876.9 1219.5L1879.4 1220.0L1881.9 1220.5L1884.4 1220.9L1886.9 1221.4L1889.3 1221.8L1891.8 1222.2L1894.3 1222.7L1896.8 1223.1L1899.3 1223.5L1901.8 1223.9L1904.3 1224.3L1906.8 1224.6L1909.3 1225.0L1911.8 1225.4L1914.3 1225.7L1916.8 1226.1L1919.3 1226.4L1921.8 1226.8L1924.3 1227.1L1926.8 1227.4L1929.3 1227.7L1931.8 1228.1L1934.3 1228.4L1936.8 1228.7L1939.4 1229.0L1941.9 1229.2L1944.4 1229.5L1946.9 1229.8L1949.4 1230.1L1951.9 1230.4L1954.4 1230.6L1956.9 1230.9L1959.5 1231.1L1962.0 1231.4L1964.5 1231.6L1967.0 1231.9L1969.5 1232.1L1972.0 1232.4L1974.5 1232.6L1977.1 1232.8L1979.6 1233.1L1982.1 1233.3L1984.6 1233.5L1987.1 1233.7L1989.7 1234.0L1992.2 1234.2L1994.7 1234.4L1997.2 1234.6L1999.7 1234.8L2002.2 1235.0L2004.8 1235.3L2007.3 1235.5L2009.8 1235.7L2012.3 1235.9L2014.8 1236.1L2017.3 1236.3L2019.9 1236.5L2022.4 1236.7L2024.9 1236.9L2027.4 1237.1L2029.9 1237.3L2032.5 1237.5L2035.0 1237.7L2037.5 1237.9L2040.0 1238.1L2042.5 1238.3L2045.1 1238.5L2047.6 1238.7L2050.1 1238.9L2052.6 1239.1L2055.1 1239.3L2057.6 1239.5L2060.2 1239.7L2062.7 1239.9L2065.2 1240.1L2067.7 1240.3L2070.2 1240.5L2072.8 1240.7L2075.3 1240.9L2077.8 1241.1L2080.3 1241.3L2082.8 1241.5L2085.4 1241.7L2087.9 1241.9L2090.4 1242.1L2092.9 1242.3L2095.4 1242.5L2097.9 1242.8L2100.5 1243.0L2103.0 1243.3L2105.5 1243.5L2108.0 1243.8" stroke="#0000ff" stroke-dasharray="48 33.7 5 33.73" stroke-dashoffset="0.2"/>
<path d="M317.5 186.3L320.0 186.3L322.5 186.3L325.0 186.3L327.5 186.3L330.0 186.3L332.5 186.3L335.0 186.3L337.5 186.3L340.0 186.3L342.5 186.3L345.1 186.3L347.6 186.3L350.1 186.3L352.6 186.3L355.1 186.3L357.6 186.2L360.1 186.2L362.6 186.2L365.1 186.2L367.6 186.2L370.1 186.2L372.6 186.2L375.1 186.2L377.6 186.2L380.1 186.2L382.6 186.2L385.1 186.2L387.6 186.2L390.2 186.2L392.7 186.2L395.2 186.2L397.7 186.1L400.2 186.1L402.7 186.1L405.2 186.1L407.7 186.1L410.2 186.1L412.7 186.1L415.2 186.1L417.7 186.1L420.2 186.1L422.7 186.1L425.2 186.1L427.7 186.1L430.2 186.1L432.7 186.1L435.3 186.1L437.8 186.1L440.3 186.1L442.8 186.1L445.3 186.1L447.8 186.1L450.3 186.1L452.8 186.1L455.3 186.0L457.8 186.0L460.3 186.0L462.8 186.0L465.3 186.0L467.8 186.0L470.3 186.0L472.8 186.0L475.3 186.0L477.8 186.0L480.4 186.0L482.9 186.0L485.4 186.0L487.9 186.0L490.4 186.0L492.9 186.0L495.4 186.0L497.9 186.0L500.4 186.1L502.9 186.1L505.4 186.1L507.9 186.1L510.4 186.1L512.9 186.1L515.4 186.1L517.9 186.1L520.4 186.1L522.9 186.1L525.5 186.1L528.0 186.1L530.5 186.1L533.0 186.1L535.5 186.1L538.0 186.1L540.5 186.1L543.0 186.2L545.5 186.2L548.0 186.2L550.5 186.2L553.0 186.2L555.5 186.2L558.0 186.2L560.5 186.2L563.0 186.2L565.5 186.3L568.0 186.3L570.6 186.3L573.1 186.3L575.6 186.3L578.1 186.3L580.6 186.3L583.1 186.4L585.6 186.4L588.1 186.4L590.6 186.4L593.1 186.4L595.6 186.5L598.1 186.5L600.6 186.5L603.1 186.5L605.6 186.5L608.1 186.6L610.6 186.6L613.1 186.6L615.6 186.6L618.1 186.7L620.7 186.7L623.2 186.7L625.7 186.7L628.2 186.8L630.7 186.8L633.2 186.8L635.7 186.8L638.2 186.9L640.7 186.9L643.2 186.9L645.7 187.0L648.2 187.0L650.7 187.0L653.2 187.1L655.7 187.1L658.2 187.1L660.7 187.2L663.2 187.2L665.7 187.3L668.2 187.3L670.8 187.3L673.3 187.4L675.8 187.4L678.3 187.5L680.8 187.5L683.3 187.5L685.8 187.6L688.3 187.6L690.8 187.7L693.3 187.7L695.8 187.8L698.3 187.8L700.8 187.9L703.3 187.9L705.8 188.0L708.3 188.0L710.8 188.1L713.3 188.1L715.8 188.2L718.3 188.2L720.8 188.3L723.3 188.3L725.9 188.4L728.4 188.4L730.9 188.5L733.4 188.6L735.9 188.6L738.4 188.7L740.9 188.8L743.4 188.8L745.9 188.9L748.4 188.9L750.9 189.0L753.4 189.1L755.9 189.1L758.4 189.2L760.9 189.3L763.4 189.4L765.9 189.4L768.4 189.5L770.9 189.6L773.4 189.6L775.9 189.7L778.4 189.8L780.9 189.9L783.4 190.0L785.9 190.0L788.5 190.1L791.0 190.2L793.5 190.3L796.0 190.4L798.5 190.5L801.0 190.5L803.5 190.6L806.0 190.7L808.5 190.8L811.0 190.9L813.5 191.0L816.0 191.1L818.5 191.2L821.0 191.3L823.5 191.4L826.0 191.5L828.5 191.6L831.0 191.7L833.5 191.8L836.0 191.9L838.5 192.0L841.0 192.1L843.5 192.2L846.0 192.3L848.5 192.4L851.0 192.5L853.5 192.6L856.0 192.7L858.5 192.8L861.0 192.9L863.5 193.1L866.0 193.2L868.5 193.3L871.1 193.4L873.6 193.5L876.1 193.6L878.6 193.8L881.1 193.9L883.6 194.0L886.1 194.1L888.6 194.3L891.1 194.4L893.6 194.5L896.1 194.7L898.6 194.8L901.1 194.9L903.6 195.1L906.1 195.2L908.6 195.3L911.1 195.5L913.6 195.6L916.1 195.8L918.6 195.9L921.1 196.0L923.6 196.2L926.1 196.3L928.6 196.5L931.1 196.6L933.6 196.8L936.1 196.9L938.6 197.1L941.1 197.2L943.6 197.4L946.1 197.6L948.6 197.7L951.1 197.9L953.6 198.0L956.1 198.2L958.6 198.4L961.1 198.5L963.6 198.7L966.1 198.9L968.6 199.0L971.1 199.2L973.6 199.4L976.1 199.6L978.6 199.7L981.1 199.9L983.6 200.1L986.1 200.3L988.6 200.5L991.1 200.6L993.6 200.8L996.1 201.0L998.6 201.2L1001.1 201.4L1003.6 201.6L1006.1 201.8L1008.6 202.0L1011.1 202.2L1013.6 202.4L1016.1 202.6L1018.6 202.8L1021.1 203.0L1023.6 203.2L1026.1 203.4L1028.6 203.6L1031.1 203.8L1033.6 204.0L1036.1 204.2L1038.6 204.4L1041.1 204.7L1043.6 204.9L1046.1 205.1L1048.6 205.3L1051.1 205.5L1053.6 205.8L1056.1 206.0L1058.6 206.2L1061.1 206.5L1063.6 206.7L1066.1 206.9L1068.6 207.2L1071.1 207.4L1073.5 207.6L1076.0 207.9L1078.5 208.1L1081.0 208.4L1083.5 208.6L1086.0 208.9L1088.5 209.1L1091.0 209.4L1093.5 209.6L1096.0 209.9L1098.5 210.1L1101.0 210.4L1103.5 210.6L1106.0 210.9L1108.5 211.2L1110.9 211.4L1113.4 211.7L1115.9 212.0L1118.4 212.2L1120.9 212.5L1123.4 212.8L1125.9 213.1L1128.4 213.3L1130.9 213.6L1133.4 213.9L1135.8 214.2L1138.3 214.5L1140.8 214.8L1143.3 215.0L1145.8 215.3L1148.3 215.6L1150.8 215.9L1153.3 216.2L1155.7 216.5L1158.2 216.8L1160.7 217.1L1163.2 217.4L1165.7 217.7L1168.2 218.1L1170.7 218.4L1173.1 218.7L1175.6 219.0L1178.1 219.3L1180.6 219.6L1183.1 220.0L1185.6 220.3L1188.0 220.6L1190.5 220.9L1193.0 221.3L1195.5 221.6L1198.0 221.9L1200.4 222.3L1202.9 222.6L1205.4 222.9L1207.9 223.3L1210.4 223.6L1212.8 224.0L1215.3 224.3L1217.8 224.7L1220.3 225.0L1222.7 225.4L1225.2 225.7L1227.7 226.1L1230.2 226.5L1232.6 226.8L1235.1 227.2L1237.6 227.6L1240.1 227.9L1242.5 228.3L1245.0 228.7L1247.5 229.1L1250.0 229.4L1252.4 229.8L1254.9 230.2L1257.4 230.6L1259.8 231.0L1262.3 231.4L1264.8 231.8L1267.3 232.2L1269.7 232.6L1272.2 233.0L1274.7 233.4L1277.1 233.8L1279.6 234.2L1282.1 234.6L1284.5 235.0L1287.0 235.4L1289.5 235.8L1291.9 236.3L1294.4 236.7L1296.9 237.1L1299.3 237.5L1301.8 238.0L1304.3 238.4L1306.7 238.8L1309.2 239.3L1311.7 239.7L1314.1 240.2L1316.6 240.6L1319.0 241.1L1321.5 241.5L1324.0 242.0L1326.4 242.4L1328.9 242.9L1331.4 243.3L1333.8 243.8L1336.3 244.3L1338.7 244.7L1341.2 245.2L1343.7 245.7L1346.1 246.2L1348.6 246.7L1351.0 247.1L1353.5 247.6L1356.0 248.1L1358.4 248.6L1360.9 249.1L1363.3 249.6L1365.8 250.1L1368.2 250.6L1370.7 251.1L1373.2 251.6L1375.6 252.2L1378.1 252.7L1380.5 253.2L1383.0 253.7L1385.5 254.2L1387.9 254.8L1390.4 255.3L1392.8 255.8L1395.3 256.4L1397.7 256.9L1400.2 257.5L1402.6 258.0L1405.1 258.6L1407.5 259.2L1410.0 259.7L1412.4 260.3L1414.9 261.0L1417.3 261.6L1419.7 262.3L1422.1 263.0L1424.5 263.8L1426.8 264.6L1429.2 265.4L1431.5 266.3L1433.8 267.3L1436.1 268.3L1438.3 269.3L1440.5 270.4L1442.8 271.6L1444.9 272.7L1447.1 274.0L1449.3 275.3L1451.4 276.6L1453.5 277.9L1455.6 279.3L1457.6 280.8L1459.7 282.2L1461.7 283.7L1463.7 285.3L1465.7 286.8L1467.7 288.4L1469.7 290.0L1471.6 291.6L1473.5 293.3L1475.4 294.9L1477.3 296.6L1479.2 298.3L1481.1 300.0L1482.9 301.7L1484.7 303.4L1486.6 305.1L1488.4 306.9L1490.2 308.7L1491.9 310.4L1493.7 312.2L1495.5 314.0L1497.2 315.8L1498.9 317.6L1500.6 319.5L1502.3 321.3L1504.0 323.2L1505.7 325.0L1507.3 326.9L1509.0 328.8L1510.6 330.7L1512.2 332.6L1513.8 334.5L1515.4 336.4L1517.0 338.3L1518.6 340.3L1520.1 342.2L1521.7 344.2L1523.2 346.2L1524.7 348.2L1526.2 350.1L1527.7 352.1L1529.2 354.1L1530.7 356.2L1532.1 358.2L1533.6 360.2L1535.0 362.3L1536.4 364.3L1537.8 366.4L1539.2 368.4L1540.6 370.5L1542.0 372.6L1543.4 374.6L1544.7 376.7L1546.1 378.8L1547.4 380.9L1548.8 383.1L1550.1 385.2L1551.4 387.3L1552.7 389.4L1554.0 391.6L1555.3 393.7L1556.5 395.9L1557.8 398.0L1559.0 400.2L1560.3 402.3L1561.5 404.5L1562.7 406.7L1563.9 408.9L1565.2 411.1L1566.3 413.2L1567.5 415.4L1568.7 417.6L1569.9 419.9L1571.0 422.1L1572.2 424.3L1573.3 426.5L1574.5 428.7L1575.6 431.0L1576.7 433.2L1577.8 435.4L1578.9 437.7L1580.0 439.9L1581.1 442.2L1582.2 444.4L1583.3 446.7L1584.3 448.9L1585.4 451.2L1586.5 453.5L1587.5 455.7L1588.5 458.0L1589.6 460.3L1590.6 462.6L1591.6 464.9L1592.6 467.2L1593.6 469.5L1594.6 471.7L1595.6 474.0L1596.6 476.4L1597.6 478.7L1598.6 481.0L1599.5 483.3L1600.5 485.6L1601.5 487.9L1602.4 490.2L1603.4 492.6L1604.3 494.9L1605.2 497.2L1606.2 499.5L1607.1 501.9L1608.0 504.2L1608.9 506.5L1609.8 508.9L1610.7 511.2L1611.6 513.6L1612.5 515.9L1613.4 518.3L1614.3 520.6L1615.2 523.0L1616.1 525.3L1617.0 527.7L1617.8 530.0L1618.7 532.4L1619.6 534.7L1620.4 537.1L1621.3 539.5L1622.1 541.8L1623.0 544.2L1623.8 546.6L1624.7 548.9L1625.5 551.3L1626.4 553.7L1627.2 556.0L1628.0 558.4L1628.9 560.8L1629.7 563.1L1630.5 565.5L1631.3 567.9L1632.2 570.2L1633.0 572.6L1633.8 575.0L1634.6 577.4L1635.4 579.7L1636.2 582.1L1637.0 584.5L1637.9 586.9L1638.7 589.2L1639.5 591.6L1640.3 594.0L1641.1 596.4L1641.9 598.7L1642.7 601.1L1643.5 603.5L1644.3 605.8L1645.1 608.2L1645.9 610.6L1646.6 613.0L1647.4 615.3L1648.2 617.7L1649.0 620.1L1649.8 622.5L1650.6 624.8L1651.4 627.2L1652.1 629.6L1652.9 632.0L1653.7 634.3L1654.5 636.7L1655.2 639.1L1656.0 641.5L1656.8 643.8L1657.5 646.2L1658.3 648.6L1659.1 651.0L1659.8 653.4L1660.6 655.7L1661.4 658.1L1662.1 660.5L1662.9 662.9L1663.6 665.3L1664.4 667.6L1665.1 670.0L1665.9 672.4L1666.6 674.8L1667.4 677.2L1668.1 679.6L1668.9 681.9L1669.6 684.3L1670.4 686.7L1671.1 689.1L1671.8 691.5L1672.6 693.9L1673.3 696.3L1674.0 698.7L1674.8 701.0L1675.5 703.4L1676.2 705.8L1677.0 708.2L1677.7 710.6L1678.4 713.0L1679.1 715.4L1679.8 717.8L1680.6 720.2L1681.3 722.6L1682.0 725.0L1682.7 727.4L1683.4 729.8L1684.1 732.2L1684.8 734.6L1685.5 737.0L1686.3 739.4L1687.0 741.8L1687.7 744.2L1688.4 746.6L1689.1 749.0L1689.8 751.4L1690.5 753.8L1691.1 756.2L1691.8 758.6L1692.5 761.0L1693.2 763.4L1693.9 765.9L1694.6 768.3L1695.3 770.7L1696.0 773.1L1696.7 775.5L1697.3 777.9L1698.0 780.4L1698.7 782.8L1699.4 785.2L1700.1 787.6L1700.7 790.0L1701.4 792.4L1702.1 794.9L1702.8 797.3L1703.5 799.7L1704.2 802.1L1704.9 804.5L1705.6 807.0L1706.3 809.4L1707.0 811.8L1707.7 814.2L1708.4 816.6L1709.1 819.0L1709.8 821.4L1710.5 823.8L1711.2 826.2L1711.9 828.7L1712.7 831.1L1713.4 833.5L1714.1 835.9L1714.9 838.3L1715.6 840.7L1716.4 843.0L1717.1 845.4L1717.9 847.8L1718.7 850.2L1719.4 852.6L1720.2 855.0L1721.0 857.4L1721.8 859.7L1722.6 862.1L1723.4 864.5L1724.3 866.9L1725.1 869.2L1725.9 871.6L1726.8 873.9L1727.6 876.3L1728.5 878.6L1729.4 881.0L1730.3 883.3L1731.2 885.7L1732.1 888.0L1733.0 890.3L1733.9 892.6L1734.8 895.0L1735.8 897.3L1736.7 899.6L1737.7 901.9L1738.7 904.2L1739.7 906.5L1740.7 908.8L1741.7 911.1L1742.7 913.4L1743.8 915.6L1744.8 917.9L1745.9 920.2L1747.0 922.4L1748.1 924.7L1749.2 926.9L1750.3 929.2L1751.4 931.4L1752.6 933.6L1753.8 935.8L1755.0 938.0L1756.2 940.2L1757.4 942.4L1758.7 944.6L1760.0 946.7L1761.3 948.8L1762.6 950.9L1764.0 953.0L1765.4 955.1L1766.8 957.2L1768.3 959.2L1769.8 961.2L1771.3 963.2L1772.9 965.1L1774.5 967.0L1776.1 968.9L1777.7 970.8L1779.4 972.7L1781.1 974.6L1782.8 976.4L1784.6 978.2L1786.3 980.0L1788.1 981.8L1789.8 983.6L1791.6 985.4L1793.4 987.2L1795.2 989.0L1796.9 990.8L1798.7 992.6L1800.5 994.4L1802.3 996.1L1804.2 997.9L1806.0 999.6L1807.9 1001.3L1809.7 1002.9L1811.6 1004.6L1813.5 1006.2L1815.5 1007.8L1817.4 1009.3L1819.4 1010.8L1821.5 1012.2L1823.5 1013.6L1825.6 1015.0L1827.7 1016.3L1829.9 1017.6L1832.1 1018.8L1834.3 1020.0L1836.5 1021.1L1838.7 1022.2L1841.0 1023.2L1843.3 1024.2L1845.6 1025.2L1847.9 1026.1L1850.3 1027.0L1852.6 1027.9L1855.0 1028.7L1857.4 1029.5L1859.8 1030.3L1862.2 1031.0L1864.6 1031.7L1867.0 1032.4L1869.4 1033.1L1871.9 1033.7L1874.3 1034.4L1876.8 1035.0L1879.2 1035.6L1881.6 1036.2L1884.1 1036.8L1886.5 1037.4L1889.0 1037.9L1891.4 1038.5L1893.9 1039.0L1896.3 1039.5L1898.8 1040.0L1901.2 1040.5L1903.7 1041.0L1906.1 1041.5L1908.6 1042.0L1911.1 1042.5L1913.5 1042.9L1916.0 1043.3L1918.5 1043.8L1920.9 1044.2L1923.4 1044.6L1925.9 1045.0L1928.3 1045.4L1930.8 1045.8L1933.3 1046.2L1935.8 1046.6L1938.2 1046.9L1940.7 1047.3L1943.2 1047.6L1945.7 1048.0L1948.2 1048.3L1950.6 1048.7L1953.1 1049.0L1955.6 1049.3L1958.1 1049.6L1960.6 1049.9L1963.1 1050.2L1965.5 1050.5L1968.0 1050.8L1970.5 1051.1L1973.0 1051.4L1975.5 1051.7L1978.0 1052.0L1980.5 1052.2L1983.0 1052.5L1985.5 1052.8L1988.0 1053.0L1990.4 1053.3L1992.9 1053.5L1995.4 1053.8L1997.9 1054.1L2000.4 1054.3L2002.9 1054.6L2005.4 1054.8L2007.9 1055.1L2010.4 1055.3L2012.9 1055.5L2015.4 1055.8L2017.9 1056.0L2020.4 1056.3L2022.9 1056.5L2025.4 1056.8L2027.8 1057.0L2030.3 1057.3L2032.8 1057.5L2035.3 1057.8L2037.8 1058.0L2040.3 1058.3L2042.8 1058.5L2045.3 1058.8L2047.8 1059.0L2050.3 1059.3L2052.8 1059.5L2055.3 1059.8L2057.8 1060.0L2060.3 1060.3L2062.7 1060.6L2065.2 1060.8L2067.7 1061.1L2070.2 1061.4L2072.7 1061.7L2075.2 1061.9L2077.7 1062.2L2080.2 1062.5L2082.7 1062.8L2085.2 1063.1L2087.6 1063.4L2090.1 1063.7L2092.6 1064.0L2095.1 1064.3L2097.6 1064.6L2100.1 1065.0L2102.6 1065.3L2105.0 1065.6L2107.5 1066.0L2110.0 1066.3" stroke="#00ff00" stroke-dasharray="39.5 56.03" stroke-dashoffset="61"/>
</g>
<g shape-rendering="crispEdges"><rect x="320" y="252" width="302.7" height="2" fill="#000"/><rect x="622.7" y="251" width="612.8" height="2" fill="#000"/><rect x="1235.5" y="250" width="612.8" height="2" fill="#000"/><rect x="1848.3" y="249" width="302.7" height="2" fill="#000"/></g>
<path d="M315.1 186.2L317.6 186.1L320.1 186.1L322.6 186.1L325.1 186.0L327.6 186.0L330.1 185.9L332.6 185.9L335.1 185.9L337.6 185.8L340.1 185.8L342.6 185.7L345.1 185.7L347.6 185.7L350.1 185.6L352.6 185.6L355.0 185.5L357.5 185.5L360.0 185.4L362.5 185.4L365.0 185.3L367.5 185.3L370.0 185.2L372.5 185.2L375.0 185.2L377.5 185.1L380.0 185.1L382.5 185.0L385.0 185.0L387.5 184.9L390.0 184.9L392.5 184.8L395.0 184.8L397.5 184.7L400.0 184.7L402.5 184.6L405.0 184.6L407.5 184.5L410.0 184.5L412.6 184.4L415.1 184.4L417.6 184.3L420.1 184.3L422.6 184.2L425.1 184.2L427.6 184.1L430.1 184.1L432.6 184.0L435.1 184.0L437.6 183.9L440.1 183.9L442.6 183.8L445.1 183.8L447.6 183.7L450.1 183.7L452.6 183.6L455.1 183.5L457.6 183.5L460.1 183.4L462.6 183.4L465.1 183.3L467.6 183.3L470.1 183.2L472.6 183.2L475.1 183.1L477.6 183.1L480.1 183.0L482.6 183.0L485.1 182.9L487.6 182.8L490.1 182.8L492.6 182.7L495.1 182.7L497.6 182.6L500.1 182.6L502.6 182.5L505.2 182.5L507.7 182.4L510.2 182.3L512.7 182.3L515.2 182.2L517.7 182.2L520.2 182.1L522.7 182.1L525.2 182.0L527.7 182.0L530.2 181.9L532.7 181.8L535.2 181.8L537.7 181.7L540.2 181.7L542.7 181.6L545.2 181.6L547.7 181.5L550.2 181.5L552.7 181.4L555.3 181.3L557.8 181.3L560.3 181.2L562.8 181.2L565.3 181.1L567.8 181.1L570.3 181.0L572.8 181.0L575.3 180.9L577.8 180.8L580.3 180.8L582.8 180.7L585.3 180.7L587.8 180.6L590.3 180.6L592.8 180.5L595.3 180.5L597.8 180.4L600.4 180.3L602.9 180.3L605.4 180.2L607.9 180.2L610.4 180.1L612.9 180.1L615.4 180.0L617.9 180.0L620.4 179.9L622.9 179.9L625.4 179.8L627.9 179.8L630.4 179.7L632.9 179.7L635.4 179.6L637.9 179.5L640.5 179.5L643.0 179.4L645.5 179.4L648.0 179.3L650.5 179.3L653.0 179.2L655.5 179.2L658.0 179.1L660.5 179.1L663.0 179.0L665.5 179.0L668.0 178.9L670.5 178.9L673.0 178.8L675.5 178.8L678.1 178.7L680.6 178.7L683.1 178.6L685.6 178.6L688.1 178.5L690.6 178.5L693.1 178.4L695.6 178.4L698.1 178.3L700.6 178.3L703.1 178.3L705.6 178.2L708.1 178.2L710.6 178.1L713.1 178.1L715.7 178.0L718.2 178.0L720.7 177.9L723.2 177.9L725.7 177.8L728.2 177.8L730.7 177.8L733.2 177.7L735.7 177.7L738.2 177.6L740.7 177.6L743.2 177.5L745.7 177.5L748.2 177.5L750.7 177.4L753.3 177.4L755.8 177.3L758.3 177.3L760.8 177.3L763.3 177.2L765.8 177.2L768.3 177.1L770.8 177.1L773.3 177.1L775.8 177.0L778.3 177.0L780.8 177.0L783.3 176.9L785.8 176.9L788.3 176.9L790.8 176.8L793.4 176.8L795.9 176.8L798.4 176.7L800.9 176.7L803.4 176.7L805.9 176.6L808.4 176.6L810.9 176.6L813.4 176.5L815.9 176.5L818.4 176.5L820.9 176.4L823.4 176.4L825.9 176.4L828.4 176.4L830.9 176.3L833.4 176.3L836.0 176.3L838.5 176.3L841.0 176.2L843.5 176.2L846.0 176.2L848.5 176.2L851.0 176.1L853.5 176.1L856.0 176.1L858.5 176.1L861.0 176.0L863.5 176.0L866.0 176.0L868.5 176.0L871.0 176.0L873.5 175.9L876.0 175.9L878.5 175.9L881.0 175.9L883.5 175.9L886.1 175.9L888.6 175.8L891.1 175.8L893.6 175.8L896.1 175.8L898.6 175.8L901.1 175.8L903.6 175.8L906.1 175.8L908.6 175.8L911.1 175.7L913.6 175.7L916.1 175.7L918.6 175.7L921.1 175.7L923.6 175.7L926.1 175.7L928.6 175.7L931.1 175.7L933.6 175.7L936.1 175.7L938.6 175.7L941.1 175.7L943.6 175.7L946.1 175.7L948.6 175.7L951.1 175.7L953.6 175.7L956.1 175.7L958.6 175.7L961.1 175.7L963.6 175.7L966.2 175.7L968.7 175.7L971.2 175.7L973.7 175.7L976.2 175.7L978.7 175.7L981.2 175.8L983.7 175.8L986.2 175.8L988.7 175.8L991.2 175.8L993.7 175.8L996.2 175.8L998.7 175.8L1001.2 175.9L1003.7 175.9L1006.2 175.9L1008.7 175.9L1011.2 175.9L1013.7 176.0L1016.2 176.0L1018.7 176.0L1021.2 176.0L1023.7 176.0L1026.2 176.1L1028.7 176.1L1031.2 176.1L1033.7 176.1L1036.2 176.2L1038.7 176.2L1041.2 176.2L1043.7 176.3L1046.2 176.3L1048.7 176.3L1051.2 176.4L1053.7 176.4L1056.2 176.4L1058.6 176.5L1061.1 176.5L1063.6 176.5L1066.1 176.6L1068.6 176.6L1071.1 176.6L1073.6 176.7L1076.1 176.7L1078.6 176.8L1081.1 176.8L1083.6 176.9L1086.1 176.9L1088.6 176.9L1091.1 177.0L1093.6 177.0L1096.1 177.1L1098.6 177.1L1101.1 177.2L1103.6 177.2L1106.1 177.3L1108.6 177.3L1111.1 177.4L1113.6 177.4L1116.1 177.5L1118.6 177.6L1121.1 177.6L1123.6 177.7L1126.1 177.7L1128.6 177.8L1131.1 177.8L1133.6 177.9L1136.1 178.0L1138.6 178.0L1141.0 178.1L1143.5 178.1L1146.0 178.2L1148.5 178.3L1151.0 178.3L1153.5 178.4L1156.0 178.5L1158.5 178.5L1161.0 178.6L1163.5 178.7L1166.0 178.8L1168.5 178.8L1171.0 178.9L1173.5 179.0L1176.0 179.0L1178.5 179.1L1181.0 179.2L1183.5 179.3L1186.0 179.4L1188.5 179.4L1191.0 179.5L1193.5 179.6L1196.0 179.7L1198.5 179.8L1201.0 179.8L1203.5 179.9L1206.0 180.0L1208.5 180.1L1211.0 180.2L1213.5 180.3L1216.0 180.3L1218.5 180.4L1221.0 180.5L1223.5 180.6L1226.0 180.7L1228.5 180.8L1231.0 180.9L1233.5 181.0L1236.0 181.1L1238.5 181.2L1241.0 181.3L1243.5 181.3L1246.0 181.4L1248.5 181.5L1251.0 181.6L1253.5 181.7L1256.0 181.8L1258.5 181.9L1261.0 182.0L1263.5 182.1L1266.0 182.2L1268.5 182.3L1271.0 182.4L1273.6 182.5L1276.1 182.7L1278.6 182.8L1281.1 182.9L1283.6 183.0L1286.1 183.1L1288.6 183.2L1291.1 183.3L1293.6 183.4L1296.1 183.5L1298.6 183.6L1301.1 183.7L1303.6 183.9L1306.1 184.0L1308.7 184.1L1311.2 184.2L1313.7 184.3L1316.2 184.4L1318.7 184.5L1321.2 184.7L1323.7 184.8L1326.2 184.9L1328.7 185.0L1331.3 185.1L1333.8 185.3L1336.3 185.4L1338.8 185.5L1341.3 185.6L1343.8 185.8L1346.3 185.9L1348.9 186.0L1351.4 186.1L1353.9 186.3L1356.4 186.4L1358.9 186.5L1361.4 186.7L1364.0 186.8L1366.5 186.9L1369.0 187.1L1371.5 187.2L1374.0 187.4L1376.5 187.5L1379.0 187.7L1381.5 187.9L1384.0 188.2L1386.5 188.4L1389.0 188.7L1391.5 189.0L1394.0 189.3L1396.4 189.7L1398.9 190.1L1401.4 190.5L1403.8 191.0L1406.2 191.5L1408.7 192.1L1411.1 192.7L1413.5 193.3L1415.9 194.0L1418.3 194.8L1420.6 195.6L1423.0 196.4L1425.3 197.4L1427.6 198.3L1429.9 199.4L1432.1 200.5L1434.3 201.7L1436.4 203.0L1438.5 204.3L1440.6 205.8L1442.6 207.2L1444.7 208.7L1446.7 210.2L1448.6 211.8L1450.6 213.3L1452.6 214.9L1454.5 216.5L1456.5 218.1L1458.4 219.7L1460.4 221.3L1462.3 222.9L1464.2 224.5L1466.1 226.1L1467.9 227.8L1469.8 229.5L1471.6 231.2L1473.3 233.0L1475.1 234.7L1476.8 236.5L1478.5 238.3L1480.2 240.2L1481.9 242.1L1483.5 244.0L1485.2 245.9L1486.8 247.8L1488.4 249.7L1489.9 251.7L1491.5 253.7L1493.0 255.7L1494.5 257.7L1496.0 259.7L1497.5 261.7L1499.0 263.8L1500.5 265.8L1501.9 267.9L1503.3 270.0L1504.8 272.0L1506.2 274.1L1507.6 276.2L1509.0 278.3L1510.4 280.4L1511.8 282.5L1513.2 284.6L1514.6 286.7L1515.9 288.8L1517.3 290.9L1518.6 293.0L1520.0 295.2L1521.3 297.3L1522.7 299.4L1524.0 301.5L1525.3 303.7L1526.6 305.8L1527.9 308.0L1529.2 310.1L1530.5 312.3L1531.7 314.4L1533.0 316.6L1534.3 318.7L1535.5 320.9L1536.8 323.1L1538.0 325.3L1539.2 327.4L1540.5 329.6L1541.7 331.8L1542.9 334.0L1544.1 336.2L1545.3 338.4L1546.5 340.6L1547.7 342.8L1548.8 345.0L1550.0 347.2L1551.2 349.4L1552.3 351.6L1553.5 353.8L1554.6 356.1L1555.7 358.3L1556.9 360.5L1558.0 362.7L1559.1 365.0L1560.2 367.2L1561.3 369.4L1562.4 371.7L1563.5 373.9L1564.6 376.2L1565.7 378.4L1566.7 380.7L1567.8 383.0L1568.8 385.2L1569.9 387.5L1570.9 389.7L1572.0 392.0L1573.0 394.3L1574.0 396.6L1575.1 398.8L1576.1 401.1L1577.1 403.4L1578.1 405.7L1579.1 408.0L1580.1 410.3L1581.1 412.6L1582.1 414.9L1583.0 417.2L1584.0 419.5L1585.0 421.8L1585.9 424.1L1586.9 426.4L1587.8 428.7L1588.8 431.0L1589.7 433.3L1590.6 435.6L1591.6 438.0L1592.5 440.3L1593.4 442.6L1594.3 444.9L1595.2 447.3L1596.1 449.6L1597.0 451.9L1597.9 454.3L1598.8 456.6L1599.7 458.9L1600.6 461.3L1601.4 463.6L1602.3 466.0L1603.2 468.3L1604.0 470.7L1604.9 473.0L1605.7 475.4L1606.6 477.7L1607.4 480.1L1608.2 482.4L1609.1 484.8L1609.9 487.2L1610.7 489.5L1611.5 491.9L1612.4 494.3L1613.2 496.6L1614.0 499.0L1614.8 501.4L1615.6 503.8L1616.4 506.1L1617.2 508.5L1617.9 510.9L1618.7 513.3L1619.5 515.7L1620.3 518.0L1621.0 520.4L1621.8 522.8L1622.6 525.2L1623.3 527.6L1624.1 530.0L1624.8 532.4L1625.6 534.8L1626.3 537.2L1627.1 539.6L1627.8 542.0L1628.5 544.3L1629.3 546.7L1630.0 549.1L1630.7 551.6L1631.4 554.0L1632.1 556.4L1632.9 558.8L1633.6 561.2L1634.3 563.6L1635.0 566.0L1635.7 568.4L1636.4 570.8L1637.1 573.2L1637.8 575.6L1638.4 578.0L1639.1 580.4L1639.8 582.9L1640.5 585.3L1641.2 587.7L1641.8 590.1L1642.5 592.5L1643.2 594.9L1643.9 597.4L1644.5 599.8L1645.2 602.2L1645.8 604.6L1646.5 607.0L1647.2 609.4L1647.8 611.9L1648.5 614.3L1649.1 616.7L1649.8 619.1L1650.4 621.6L1651.0 624.0L1651.7 626.4L1652.3 628.8L1652.9 631.2L1653.6 633.7L1654.2 636.1L1654.8 638.5L1655.5 640.9L1656.1 643.4L1656.7 645.8L1657.3 648.2L1658.0 650.6L1658.6 653.1L1659.2 655.5L1659.8 657.9L1660.4 660.3L1661.0 662.8L1661.7 665.2L1662.3 667.6L1662.9 670.0L1663.5 672.5L1664.1 674.9L1664.7 677.3L1665.3 679.8L1665.9 682.2L1666.5 684.6L1667.1 687.0L1667.7 689.5L1668.3 691.9L1668.9 694.3L1669.5 696.7L1670.1 699.2L1670.7 701.6L1671.3 704.0L1671.9 706.5L1672.5 708.9L1673.1 711.3L1673.7 713.7L1674.3 716.2L1674.9 718.6L1675.5 721.0L1676.1 723.5L1676.7 725.9L1677.3 728.3L1677.9 730.7L1678.5 733.2L1679.1 735.6L1679.7 738.0L1680.3 740.5L1680.8 742.9L1681.4 745.3L1682.0 747.7L1682.6 750.2L1683.2 752.6L1683.8 755.0L1684.4 757.5L1685.0 759.9L1685.6 762.3L1686.2 764.7L1686.8 767.2L1687.4 769.6L1688.0 772.0L1688.6 774.5L1689.2 776.9L1689.9 779.3L1690.5 781.7L1691.1 784.2L1691.7 786.6L1692.3 789.0L1692.9 791.5L1693.5 793.9L1694.1 796.3L1694.7 798.7L1695.4 801.2L1696.0 803.6L1696.6 806.0L1697.2 808.4L1697.8 810.9L1698.5 813.3L1699.1 815.7L1699.7 818.1L1700.4 820.6L1701.0 823.0L1701.6 825.4L1702.3 827.8L1702.9 830.3L1703.6 832.7L1704.2 835.1L1704.9 837.5L1705.6 839.9L1706.2 842.3L1706.9 844.7L1707.6 847.1L1708.3 849.5L1709.0 851.9L1709.7 854.3L1710.4 856.7L1711.2 859.1L1711.9 861.5L1712.6 863.9L1713.4 866.3L1714.1 868.7L1714.9 871.1L1715.7 873.5L1716.5 875.8L1717.2 878.2L1718.1 880.6L1718.9 882.9L1719.7 885.3L1720.5 887.6L1721.4 890.0L1722.2 892.3L1723.1 894.7L1724.0 897.0L1724.9 899.4L1725.8 901.7L1726.7 904.0L1727.7 906.3L1728.6 908.7L1729.6 911.0L1730.5 913.3L1731.5 915.6L1732.5 917.9L1733.6 920.2L1734.6 922.4L1735.6 924.7L1736.7 927.0L1737.8 929.3L1738.9 931.5L1740.0 933.8L1741.1 936.0L1742.3 938.3L1743.5 940.5L1744.7 942.7L1745.9 944.9L1747.1 947.1L1748.4 949.3L1749.7 951.4L1751.1 953.5L1752.5 955.6L1753.9 957.6L1755.3 959.7L1756.8 961.6L1758.4 963.6L1760.0 965.5L1761.7 967.3L1763.4 969.1L1765.2 970.8L1767.0 972.5L1768.9 974.1L1770.8 975.7L1772.8 977.2L1774.9 978.7L1777.0 980.1L1779.1 981.4L1781.3 982.7L1783.5 983.9L1785.8 985.1L1788.0 986.2L1790.3 987.3L1792.6 988.3L1795.0 989.3L1797.3 990.2L1799.6 991.1L1802.0 991.9L1804.3 992.7L1806.7 993.5L1809.1 994.2L1811.5 994.9L1813.9 995.6L1816.3 996.2L1818.8 996.8L1821.2 997.4L1823.6 997.9L1826.1 998.4L1828.5 998.9L1831.0 999.4L1833.5 999.8L1835.9 1000.3L1838.4 1000.7L1840.9 1001.1L1843.3 1001.5L1845.8 1001.9L1848.3 1002.3L1850.8 1002.6L1853.2 1003.0L1855.7 1003.4L1858.2 1003.7L1860.7 1004.0L1863.2 1004.4L1865.6 1004.7L1868.1 1005.0L1870.6 1005.3L1873.1 1005.6L1875.6 1005.9L1878.1 1006.2L1880.6 1006.5L1883.0 1006.7L1885.5 1007.0L1888.0 1007.3L1890.5 1007.5L1893.0 1007.8L1895.5 1008.0L1898.0 1008.2L1900.5 1008.5L1903.0 1008.7L1905.5 1008.9L1908.0 1009.1L1910.5 1009.3L1913.0 1009.6L1915.5 1009.8L1918.0 1010.0L1920.5 1010.1L1922.9 1010.3L1925.4 1010.5L1927.9 1010.7L1930.4 1010.9L1932.9 1011.1L1935.4 1011.2L1937.9 1011.4L1940.4 1011.6L1942.9 1011.8L1945.4 1011.9L1947.9 1012.1L1950.4 1012.2L1952.9 1012.4L1955.4 1012.6L1957.9 1012.7L1960.4 1012.9L1963.0 1013.0L1965.5 1013.2L1968.0 1013.3L1970.5 1013.5L1973.0 1013.6L1975.5 1013.8L1978.0 1013.9L1980.5 1014.1L1983.0 1014.2L1985.5 1014.4L1988.0 1014.6L1990.5 1014.7L1993.0 1014.9L1995.5 1015.0L1998.0 1015.2L2000.5 1015.3L2003.0 1015.5L2005.5 1015.6L2008.0 1015.8L2010.5 1015.9L2013.0 1016.1L2015.5 1016.2L2018.0 1016.4L2020.5 1016.5L2023.0 1016.7L2025.4 1016.8L2027.9 1017.0L2030.4 1017.1L2032.9 1017.3L2035.4 1017.4L2037.9 1017.5L2040.4 1017.7L2042.9 1017.8L2045.4 1018.0L2047.9 1018.1L2050.4 1018.3L2052.9 1018.4L2055.4 1018.5L2057.9 1018.7L2060.4 1018.8L2062.9 1019.0L2065.4 1019.1L2067.9 1019.2L2070.4 1019.4L2072.9 1019.5L2075.4 1019.6L2077.9 1019.8L2080.4 1019.9L2082.9 1020.0L2085.4 1020.1L2087.9 1020.3L2090.4 1020.4L2092.9 1020.5L2095.4 1020.6L2097.9 1020.7L2100.4 1020.9L2102.9 1021.0L2105.4 1021.1L2107.9 1021.2L2110.4 1021.3L2112.9 1021.4L2115.5 1021.5L2118.0 1021.6L2120.5 1021.7L2123.0 1021.8L2125.5 1021.9L2128.0 1022.0L2130.5 1022.1L2133.0 1022.2L2135.5 1022.3L2138.0 1022.4L2140.5 1022.5L2143.0 1022.6L2145.5 1022.7L2148.0 1022.8L2150.5 1022.8L2153.0 1022.9" fill="none" stroke="#ff0000" stroke-width="11" stroke-linejoin="round" shape-rendering="crispEdges"/>
</g>
<g font-family="'Liberation Sans', Arial, Helvetica, sans-serif" fill="#000">
<text transform="translate(271.5 1425.5) scale(1 1.055)" font-size="54" text-anchor="end" font-weight="normal">10</text>
<text transform="translate(271.5 1289.5) scale(1 1.055)" font-size="54" text-anchor="end" font-weight="normal">20</text>
<text transform="translate(271.5 1153.5) scale(1 1.055)" font-size="54" text-anchor="end" font-weight="normal">30</text>
<text transform="translate(271.5 1017.5) scale(1 1.055)" font-size="54" text-anchor="end" font-weight="normal">40</text>
<text transform="translate(271.5 881.5) scale(1 1.055)" font-size="54" text-anchor="end" font-weight="normal">50</text>
<text transform="translate(271.5 745.5) scale(1 1.055)" font-size="54" text-anchor="end" font-weight="normal">60</text>
<text transform="translate(271.5 609.5) scale(1 1.055)" font-size="54" text-anchor="end" font-weight="normal">70</text>
<text transform="translate(271.5 473.5) scale(1 1.055)" font-size="54" text-anchor="end" font-weight="normal">80</text>
<text transform="translate(271.5 337.5) scale(1 1.055)" font-size="54" text-anchor="end" font-weight="normal">90</text>
<text transform="translate(271.5 201.5) scale(1 1.055)" font-size="54" text-anchor="end" font-weight="normal">100</text>
<text transform="translate(271.5 65.5) scale(1 1.055)" font-size="54" text-anchor="end" font-weight="normal">110</text>
<text transform="translate(542.535 1497.5) scale(1 1.055)" font-size="54" text-anchor="middle" font-weight="normal">100</text>
<text transform="translate(864.728 1497.5) scale(1 1.055)" font-size="54" text-anchor="middle" font-weight="normal">200</text>
<text transform="translate(1186.92 1497.5) scale(1 1.055)" font-size="54" text-anchor="middle" font-weight="normal">300</text>
<text transform="translate(1509.11 1497.5) scale(1 1.055)" font-size="54" text-anchor="middle" font-weight="normal">400</text>
<text transform="translate(1831.31 1497.5) scale(1 1.055)" font-size="54" text-anchor="middle" font-weight="normal">500</text>
<text transform="translate(2153.5 1497.5) scale(1 1.055)" font-size="54" text-anchor="middle" font-weight="normal">600</text>
<text transform="translate(1124.3 1632) scale(1 1.035)" font-size="77" text-anchor="start" font-weight="bold">T<tspan font-weight="normal">(</tspan><tspan dy="-30">o</tspan><tspan dy="30">C</tspan><tspan font-weight="normal" dx="2.5">)</tspan></text>
<text transform="translate(103.3 1047.2) rotate(-90) scale(1 0.985)" font-size="78.8" font-weight="bold">Residual of mass (%)</text>
</g>
<g shape-rendering="crispEdges"><rect x="1748" y="311" width="271" height="423" fill="#000"/><rect x="1751" y="313" width="266" height="419" fill="#fff"/></g>
<g fill="none" stroke-linecap="round" stroke-width="11.5" shape-rendering="crispEdges">
<path d="M1759.5 358.2H1907.5" stroke="#ff0000"/>
<path d="M1759.5 440.4H1907.5" stroke="#00ff00" stroke-dasharray="39.5 56.5"/>
<path d="M1759.5 522.4H1907.5" stroke="#0000ff" stroke-dasharray="48.5 33.5 5.5 33.5"/>
<path d="M1759.5 604.3H1907.5" stroke="#00ffff" stroke-dasharray="14.5 28.6"/>
</g>
<g font-family="'Liberation Sans', Arial, Helvetica, sans-serif" fill="#000">
<text transform="translate(1926.5 381.4) scale(1 1.035)" font-size="65" text-anchor="start" font-weight="normal">P1</text>
<text transform="translate(1926.5 463.5) scale(1 1.035)" font-size="65" text-anchor="start" font-weight="normal">P2</text>
<text transform="translate(1926.5 545.6) scale(1 1.035)" font-size="65" text-anchor="start" font-weight="normal">P3</text>
<text transform="translate(1926.5 627.7) scale(1 1.035)" font-size="65" text-anchor="start" font-weight="normal">P4</text>
</g>
</svg>
</body>
</html>
